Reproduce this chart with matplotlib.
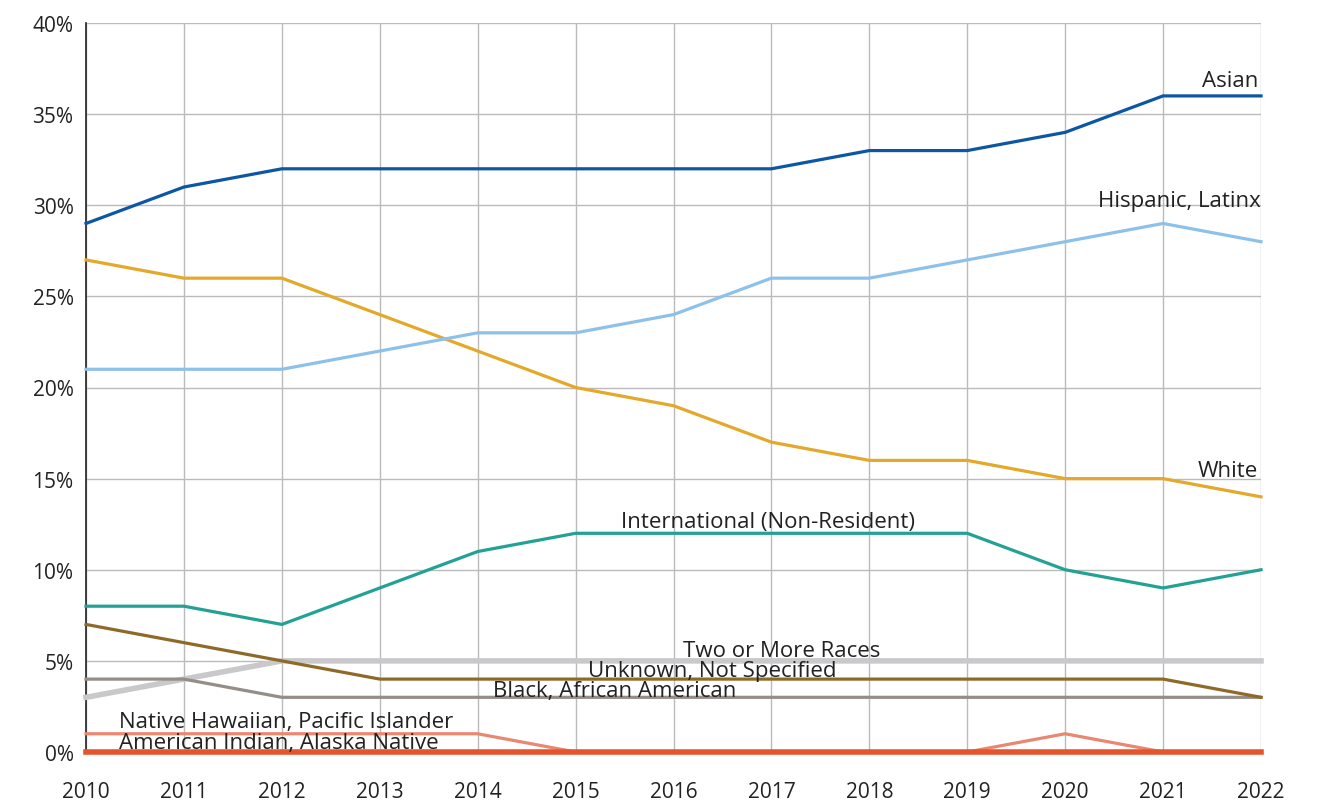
import matplotlib
matplotlib.use("Agg")
import matplotlib.pyplot as plt
from matplotlib.ticker import FuncFormatter

plt.rcParams['font.family'] = ['Open Sans', 'DejaVu Sans']

years = list(range(2010, 2023))

asian = [29, 31, 32, 32, 32, 32, 32, 32, 33, 33, 34, 36, 36]
hispanic = [21, 21, 21, 22, 23, 23, 24, 26, 26, 27, 28, 29, 28]
white = [27, 26, 26, 24, 22, 20, 19, 17, 16, 16, 15, 15, 14]
international = [8, 8, 7, 9, 11, 12, 12, 12, 12, 12, 10, 9, 10]
two_or_more = [3, 4, 5, 5, 5, 5, 5, 5, 5, 5, 5, 5, 5]
unknown = [7, 6, 5, 4, 4, 4, 4, 4, 4, 4, 4, 4, 3]
black = [4, 4, 3, 3, 3, 3, 3, 3, 3, 3, 3, 3, 3]
nhpi = [1, 1, 1, 1, 1, 0, 0, 0, 0, 0, 1, 0, 0]
aian = [0, 0, 0, 0, 0, 0, 0, 0, 0, 0, 0, 0, 0]

y_ticks = [0, 5, 10, 15, 20, 25, 30, 35, 40]

fig = plt.figure(figsize=(13.27, 8.03), dpi=100)
ax = fig.add_axes([86 / 1327, 50 / 803, 1175 / 1327, 729 / 803])

# series: values, colour, width, label text, label x, label baseline, alignment
series = [
    (two_or_more, '#C9C9CB', 4.0, 'Two or More Races', 2017.1, 5.27, 'center'),
    (black, '#958D88', 2.3, 'Black, African American', 2015.4, 3.07, 'center'),
    (unknown, '#8D6A27', 2.3, 'Unknown, Not Specified', 2016.4, 4.17, 'center'),
    (nhpi, '#EA8770', 2.3, 'Native Hawaiian, Pacific Islander', 2010.34, 1.37, 'left'),
    (aian, '#E4552C', 4.0, 'American Indian, Alaska Native', 2010.34, 0.22, 'left'),
    (international, '#22A194', 2.3, 'International (Non-Resident)', 2016.97, 12.35, 'center'),
    (white, '#E4A82B', 2.3, 'White', 2021.97, 15.14, 'right'),
    (hispanic, '#8DC1E9', 2.3, 'Hispanic, Latinx', 2022.0, 29.95, 'right'),
    (asian, '#0D56A3', 2.3, 'Asian', 2021.97, 36.55, 'right'),
]

for vals, color, lw, label, lx, ly, ha in series:
    ax.plot(years, vals, color=color, linewidth=lw, clip_on=False,
            solid_joinstyle='miter', zorder=3)
    ax.text(lx, ly, label, ha=ha, va='baseline', fontsize=16,
            color='#222222', zorder=4)

ax.set_xlim(2010, 2022)
ax.set_ylim(0, 40)
ax.set_xticks(years)
ax.set_yticks(y_ticks)
ax.yaxis.set_major_formatter(FuncFormatter(lambda v, p: f'{int(v)}%'))
ax.tick_params(axis='both', length=0, labelsize=15, labelcolor='#222222')
ax.tick_params(axis='x', pad=21)
ax.tick_params(axis='y', pad=9)

ax.grid(True, color='#BBBBBB', linewidth=1.0, zorder=0)
ax.set_axisbelow(True)
for side in ['top', 'right', 'bottom']:
    ax.spines[side].set_visible(False)
ax.spines['left'].set_color('#222222')
ax.spines['left'].set_linewidth(1.2)

fig.savefig('out.png', dpi=100)
